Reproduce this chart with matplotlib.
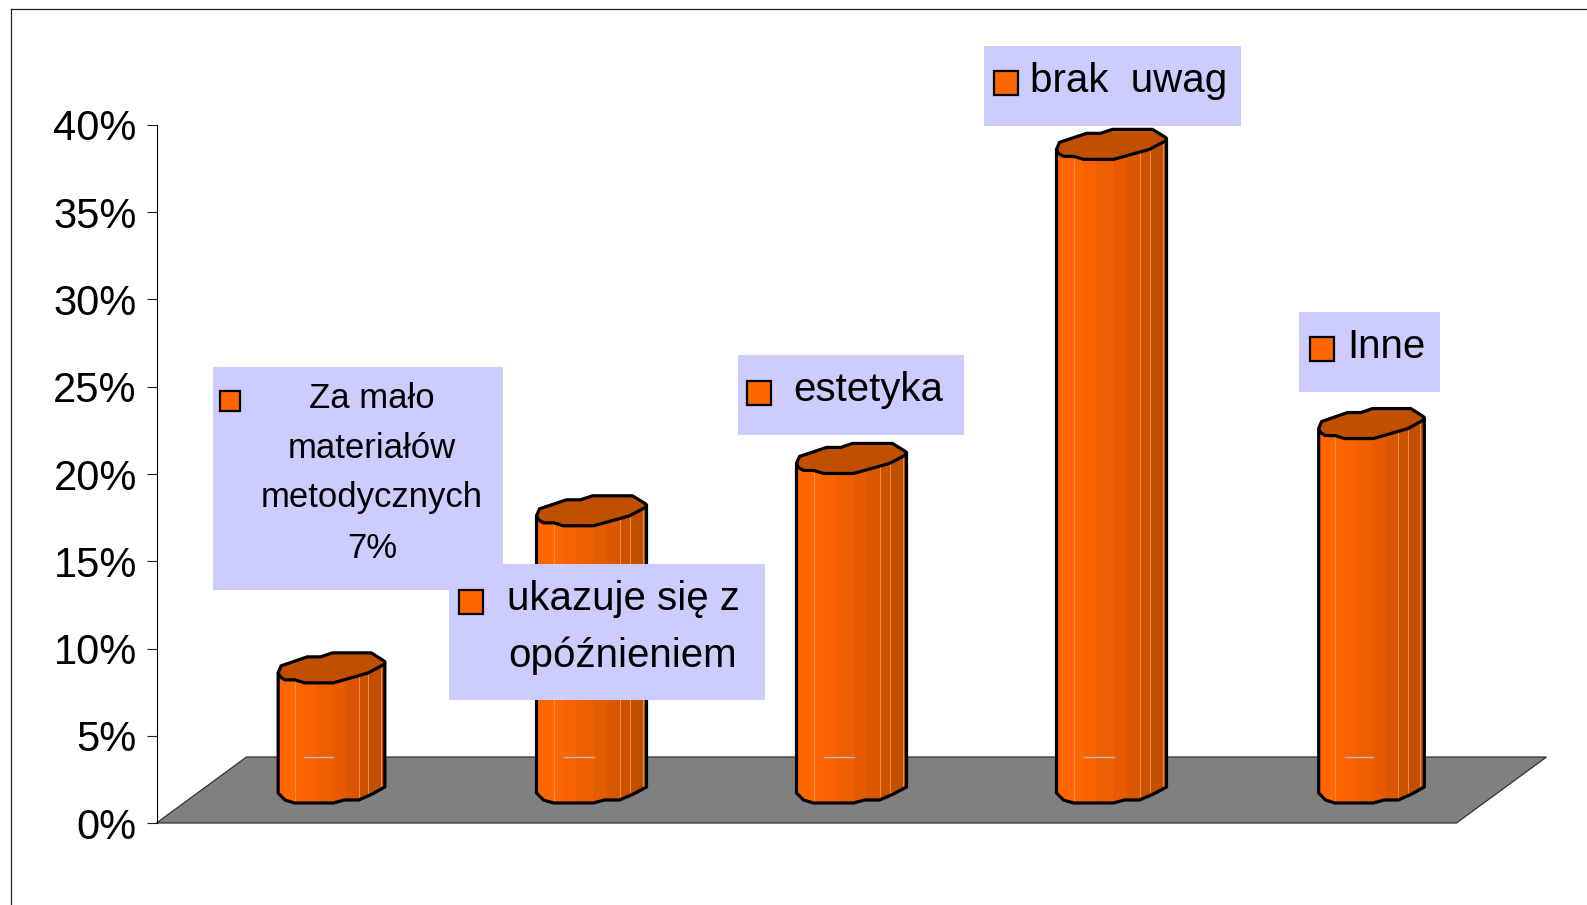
import matplotlib
matplotlib.use("Agg")
import matplotlib.pyplot as plt
from matplotlib.patches import Polygon, Rectangle
from matplotlib.transforms import Affine2D, IdentityTransform

plt.rcParams['font.family'] = ['Liberation Sans', 'DejaVu Sans']

W, H = 1587, 905

# data
categories = ["Za mało\nmateriałów\nmetodycznych", "ukazuje się z\nopóźnieniem", "estetyka", "brak  uwag", "Inne"]
values = [7, 16, 19, 37, 21]
y_ticks = [0, 5, 10, 15, 20, 25, 30, 35, 40]
bar_scale = [0.97, 1.0, 1.0, 1.0, 0.96]

# cylinder outline, px relative to centre of the cap / base
top_shape = [(-55, -5), (-52, 2), (-25, 11), (-11, 11), (1, 15), (41, 15), (54, 7), (55, 4),
             (38, -5), (2, -15), (-28, -15), (-38, -12), (-48, -12), (-53, -9)]
bottom_shape = [(-55, -3), (-48, -10), (-38, -13), (2, -13), (13, -10), (28, -10), (42, -4), (55, 3)]
strip_edges = [-55, -38, -28, -15, 2, 15, 28, 38, 55]
strip_colors = ['#ff6600', '#ff6600', '#f86300', '#ee5f00', '#e55c00', '#d95700', '#cc5200', '#c05000']
light_lines = [-38, 28, 38, 51]

fig = plt.figure(figsize=(W / 100, H / 100), dpi=100)
ax = fig.add_axes([156.5 / W, (H - 823) / H, 1300 / W, 698 / H])
ax.set_xlim(0, 5)
ax.set_ylim(0, 40)
ax.patch.set_alpha(0)
ax.set_xticks([])
ax.set_yticks(y_ticks)
ax.set_yticklabels([f"{v}%" for v in y_ticks], fontsize=30)
ax.tick_params(axis='y', length=7.2, width=0.8, pad=7, color='#222222')
for s in ['top', 'right', 'bottom']:
    ax.spines[s].set_visible(False)
ax.spines['left'].set_linewidth(0.8)

px = IdentityTransform()

# outer frame
fig.add_artist(plt.Line2D([10.5 / W, 10.5 / W], [0, (H - 9.5) / H], color='#222222', lw=0.9))
fig.add_artist(plt.Line2D([10.5 / W, 1], [(H - 9.5) / H, (H - 9.5) / H], color='#222222', lw=0.9))

# floor
front = ax.transData.transform([(0, 0), (5, 0)])
floor = [front[0], front[1], front[1] + (90, 66), front[0] + (90, 66)]
ax.add_patch(Polygon(floor, closed=True, transform=px, facecolor='#808080', edgecolor='#333333',
                     lw=0.9, clip_on=False, zorder=1))

# bars
for i, v in enumerate(values):
    cx, base_y = ax.transData.transform((i + 0.5, 0)) + (45, 33)
    _, top_y = ax.transData.transform((i + 0.5, v)) + (45, 33)
    k = bar_scale[i]
    top = [(cx + dx * k, top_y + dy) for dx, dy in top_shape]
    bottom = [(cx + dx * k, base_y + dy) for dx, dy in bottom_shape]
    body = [top[0]] + bottom + [(cx + 55 * k, top_y + 6)]

    body_patch = Polygon(body, closed=True, transform=px, facecolor='none', edgecolor='none', clip_on=False)
    ax.add_patch(body_patch)
    for j, c in enumerate(strip_colors):
        r = Rectangle((cx + strip_edges[j] * k, base_y - 20), (strip_edges[j + 1] - strip_edges[j]) * k,
                      top_y - base_y + 40, transform=px, facecolor=c, edgecolor=c, lw=0.3, zorder=2)
        ax.add_patch(r)
        r.set_clip_path(body_patch)
    for dx in light_lines:
        l = ax.plot([cx + dx * k] * 2, [base_y + 33 - 66 + 0, top_y], transform=px, color='#f09050',
                    lw=0.7, zorder=3, clip_on=True)[0]
        l.set_clip_path(body_patch)
    # bit of the floor's back edge showing through
    ax.plot([cx - 28 * k, cx + 2 * k], [H - 756.5] * 2, transform=px, color='#c4b8b0', lw=1,
            zorder=3, clip_on=False)
    ax.add_patch(Polygon(body, closed=True, transform=px, facecolor='none', edgecolor='black', lw=2.3,
                         joinstyle='round', clip_on=False, zorder=4))
    ax.add_patch(Polygon(top, closed=True, transform=px, facecolor='#c05000', edgecolor='black', lw=2.3,
                         joinstyle='round', clip_on=False, zorder=5))

# data labels: box (x0, y0, x1, y1), text centre x, line y's, key centre, key size, font size
label_boxes = [(212.5, 367, 503, 590), (449, 564, 765, 700), (738, 355, 964, 435),
               (984, 46, 1241, 125.5), (1299, 312, 1440, 392)]
label_x = [372, 623, 868, 1129, 1386]
label_y = [[399, 448, 498], [599, 656], [390], [81], [347]]
key_xy = [(230, 401), (470.5, 602), (759, 393), (1006, 83), (1322, 349)]
key_size = [20, 24, 24, 24, 24]
label_fs = [25, 29, 29, 29, 29]

for i, name in enumerate(categories):
    x0, y0, x1, y1 = label_boxes[i]
    fig.add_artist(Rectangle((x0, H - y1), x1 - x0, y1 - y0, transform=px, facecolor='#ccccff',
                             edgecolor='none', zorder=6))
    kx, ky = key_xy[i]
    s = key_size[i]
    fig.add_artist(Rectangle((kx - s / 2, H - ky - s / 2), s, s, transform=px, facecolor='#ff6600',
                             edgecolor='black', lw=1.6, zorder=7))
    lines = name.split("\n")
    if i == 0:
        lines = lines + [f"{values[i]}%"]
        ys = label_y[i] + [548]
    else:
        ys = label_y[i]
    for line, yy in zip(lines, ys):
        fig.text(label_x[i] / W, (H - yy) / H, line, fontsize=label_fs[i], ha='center', va='center',
                 color='black', zorder=8)

fig.savefig("out.png", dpi=100, facecolor='white')
